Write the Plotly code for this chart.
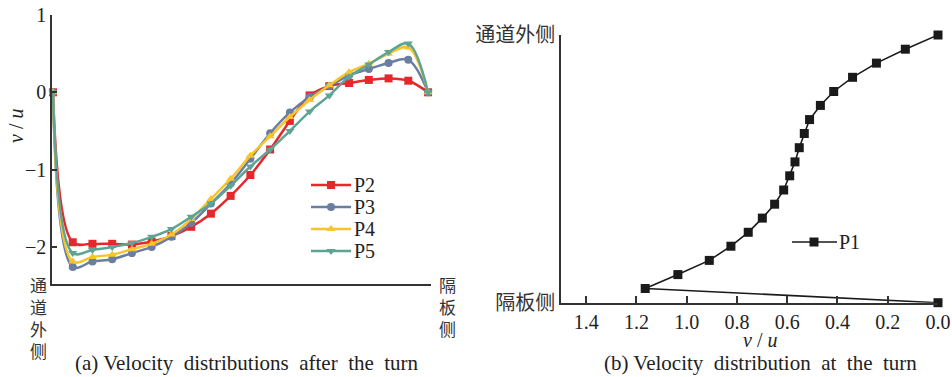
import plotly.graph_objects as go

# Sampling stations across the channel (0 = outer wall side, 19 = divider side)
stations = list(range(20))

# v/u after the turn, P2..P5
p2 = [0, -1.94, -1.96, -1.96, -1.97, -1.93, -1.86, -1.74, -1.57, -1.34,
      -1.07, -0.74, -0.37, -0.04, 0.08, 0.12, 0.16, 0.18, 0.15, 0.0]
p3 = [0, -2.26, -2.19, -2.16, -2.08, -2.00, -1.87, -1.69, -1.44, -1.18,
      -0.86, -0.53, -0.26, -0.06, 0.08, 0.22, 0.30, 0.38, 0.42, 0.0]
p4 = [0, -2.19, -2.13, -2.10, -2.03, -1.96, -1.84, -1.64, -1.38, -1.12,
      -0.82, -0.57, -0.32, -0.10, 0.09, 0.26, 0.37, 0.50, 0.58, 0.0]
p5 = [0, -2.08, -2.04, -2.00, -1.95, -1.87, -1.77, -1.61, -1.44, -1.21,
      -0.96, -0.74, -0.50, -0.25, -0.04, 0.20, 0.36, 0.52, 0.63, 0.0]

# v/u at the turn, P1 (position from divider side 0 to outer side 1)
p1_pos = [0.0, 0.053, 0.105, 0.158, 0.211, 0.263, 0.316, 0.368, 0.421, 0.474,
          0.526, 0.579, 0.632, 0.684, 0.737, 0.789, 0.842, 0.895, 0.947, 1.0]
p1_vu = [0.0, 1.165, 1.035, 0.91, 0.824, 0.755, 0.699, 0.65, 0.614, 0.59,
         0.569, 0.552, 0.532, 0.511, 0.468, 0.415, 0.34, 0.245, 0.13, 0.0]

left_series = [
    ("P2", p2, "#e4282b", "square"),
    ("P3", p3, "#6a7ea2", "circle"),
    ("P4", p4, "#f8c32b", "triangle-up"),
    ("P5", p5, "#5ea495", "triangle-down"),
]

W, H = 952, 377
SERIF = "Liberation Serif, Times New Roman, serif"
CJK = "Noto Sans CJK SC, sans-serif"
AX = "#333333"
TXT = "#222222"


def fx(px):
    return px / W


def fy(py):
    return 1 - py / H


fig = go.Figure()

for name, vals, color, sym in left_series:
    fig.add_trace(go.Scatter(
        x=stations, y=vals, name=name, mode="lines+markers",
        line=dict(color=color, width=2.5, shape="spline", smoothing=1.0),
        marker=dict(symbol=sym, size=8, color=color),
        xaxis="x", yaxis="y", cliponaxis=False, showlegend=False,
    ))

fig.add_trace(go.Scatter(
    x=p1_vu, y=p1_pos, name="P1", mode="lines+markers",
    line=dict(color="#1a1a1a", width=1.6),
    marker=dict(symbol="square", size=9, color="#1a1a1a"),
    xaxis="x2", yaxis="y2", cliponaxis=False, showlegend=False,
))

# Legend keys drawn on a full-page overlay axis measured in pixels
leg_rows = [185, 207, 229, 251]
for (name, _, color, sym), py in zip(left_series, leg_rows):
    fig.add_trace(go.Scatter(
        x=[311, 331, 351], y=[py, py, py], mode="lines",
        line=dict(color=color, width=2.5),
        xaxis="x3", yaxis="y3", showlegend=False, hoverinfo="skip",
    ))
    fig.add_trace(go.Scatter(
        x=[331], y=[py], mode="markers",
        marker=dict(symbol=sym, size=8, color=color),
        xaxis="x3", yaxis="y3", showlegend=False, hoverinfo="skip",
    ))
    fig.add_annotation(x=fx(352), y=fy(py), xref="paper", yref="paper",
                       text=name, showarrow=False, xanchor="left",
                       yanchor="middle",
                       font=dict(family=SERIF, size=20, color=TXT))

fig.add_trace(go.Scatter(
    x=[792, 814, 837], y=[242, 242, 242], mode="lines",
    line=dict(color="#1a1a1a", width=1.6),
    xaxis="x3", yaxis="y3", showlegend=False, hoverinfo="skip",
))
fig.add_trace(go.Scatter(
    x=[814], y=[242], mode="markers",
    marker=dict(symbol="square", size=9, color="#1a1a1a"),
    xaxis="x3", yaxis="y3", showlegend=False, hoverinfo="skip",
))
fig.add_annotation(x=fx(837), y=fy(242), xref="paper", yref="paper",
                   text="P1", showarrow=False, xanchor="left",
                   yanchor="middle",
                   font=dict(family=SERIF, size=20, color=TXT))

# Axis title of the left panel
fig.add_annotation(x=fx(16), y=fy(126), xref="paper", yref="paper",
                   text="<i>v</i> / <i>u</i>", textangle=-90, showarrow=False,
                   xanchor="center", yanchor="middle",
                   font=dict(family=SERIF, size=20, color=TXT))

# Vertical end labels under the left panel's horizontal axis
fig.add_annotation(x=fx(38), y=fy(270), xref="paper", yref="paper",
                   text="通<br>道<br>外<br>侧", showarrow=False,
                   xanchor="center", yanchor="top",
                   font=dict(family=CJK, size=17, color="#333"))
fig.add_annotation(x=fx(447), y=fy(270), xref="paper", yref="paper",
                   text="隔<br>板<br>侧", showarrow=False,
                   xanchor="center", yanchor="top",
                   font=dict(family=CJK, size=17, color="#333"))

# Panel captions
fig.add_annotation(x=fx(247), y=fy(363), xref="paper", yref="paper",
                   text="(a) Velocity \u00a0distributions \u00a0after \u00a0the \u00a0turn",
                   showarrow=False, xanchor="center", yanchor="middle",
                   font=dict(family=SERIF, size=21, color=TXT))
fig.add_annotation(x=fx(760), y=fy(363), xref="paper", yref="paper",
                   text="(b) Velocity \u00a0distribution \u00a0at \u00a0the \u00a0turn",
                   showarrow=False, xanchor="center", yanchor="middle",
                   font=dict(family=SERIF, size=21, color=TXT))

# Axis title of the right panel
fig.add_annotation(x=fx(760), y=fy(340), xref="paper", yref="paper",
                   text="<i>v</i> / <i>u</i>", showarrow=False,
                   xanchor="center", yanchor="middle",
                   font=dict(family=SERIF, size=20, color=TXT))

axis_common = dict(showgrid=False, zeroline=False, showline=True,
                   linecolor=AX, linewidth=1.6, ticks="inside",
                   tickcolor=AX, tickwidth=1.6, automargin=False)

fig.update_layout(
    template="none",
    width=W, height=H,
    margin=dict(l=0, r=0, t=0, b=0, autoexpand=False),
    paper_bgcolor="white", plot_bgcolor="rgba(0,0,0,0)",
    xaxis=dict(domain=[fx(52), fx(431)], range=[-0.05, 19.15],
               tickvals=[19.15], ticktext=[""], ticklen=6, anchor="y",
               **axis_common),
    yaxis=dict(domain=[fy(284), fy(15)], range=[-2.48, 1.0],
               tickvals=[-2, -1, 0, 1], ticklen=5, anchor="x",
               tickfont=dict(family=SERIF, size=20, color=TXT),
               **axis_common),
    xaxis2=dict(domain=[fx(561), fx(938)], range=[1.5, 0.0],
                tickvals=[1.4, 1.2, 1.0, 0.8, 0.6, 0.4, 0.2, 0.0],
                tickformat=".1f", ticklen=7, anchor="y2",
                tickfont=dict(family=SERIF, size=20, color=TXT),
                **axis_common),
    yaxis2=dict(domain=[fy(302.7), fy(35)], range=[0, 1.0],
                tickvals=[0, 1], ticktext=["隔板侧", "通道外侧"],
                ticklen=6, anchor="x2",
                tickfont=dict(family=CJK, size=20, color="#333"),
                **axis_common),
    xaxis3=dict(domain=[0, 1], range=[0, W], visible=False, anchor="y3",
                automargin=False),
    yaxis3=dict(domain=[0, 1], range=[H, 0], visible=False, anchor="x3",
                automargin=False),
)

fig.write_html("out.html")
